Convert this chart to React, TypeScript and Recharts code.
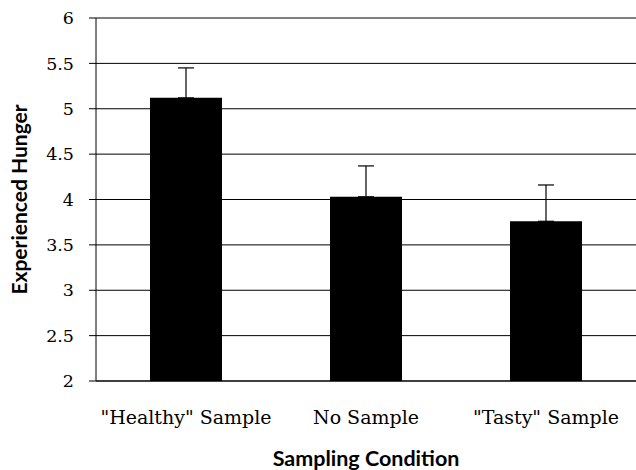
import React from 'react';
import { BarChart, Bar, XAxis, YAxis, CartesianGrid, ErrorBar, Label } from 'recharts';

const conditions = ['"Healthy" Sample', 'No Sample', '"Tasty" Sample'];
const hungerMeans = [5.12, 4.03, 3.76];
const hungerErrors = [0.33, 0.34, 0.4];
const yTicks = [2, 2.5, 3, 3.5, 4, 4.5, 5, 5.5, 6];

const data = conditions.map((name, i) => ({
  name,
  hunger: hungerMeans[i],
  err: [0, hungerErrors[i]],
}));

const serif = '"DejaVu Serif", serif';
const sans = 'Lato, "Open Sans", sans-serif';

const App: React.FC = () => {
  return (
    <div style={{ position: 'absolute', left: 0, top: 0, width: 636, height: 470, background: '#fff' }}>
      <BarChart
        width={636}
        height={470}
        data={data}
        margin={{ top: 18, right: 0, left: 0, bottom: 0 }}
      >
        <CartesianGrid horizontal vertical={false} stroke="#000" strokeWidth={1} />
        <XAxis
          dataKey="name"
          height={89}
          axisLine={{ stroke: '#000' }}
          tickLine={false}
          tickSize={0}
          tickMargin={30}
          tick={{ fill: '#000', fontFamily: serif, fontSize: 19 }}
        >
          <Label
            value="Sampling Condition"
            position="insideBottom"
            offset={4}
            style={{ fontFamily: sans, fontWeight: 700, fontSize: 21.5, fill: '#000' }}
          />
        </XAxis>
        <YAxis
          width={96}
          domain={[2, 6]}
          ticks={yTicks}
          allowDataOverflow
          axisLine={{ stroke: '#000' }}
          tickLine={{ stroke: '#000' }}
          tickSize={7}
          tickMargin={15}
          tick={{ fill: '#000', fontFamily: serif, fontSize: 17.5 }}
        >
          <Label
            value="Experienced Hunger"
            angle={-90}
            position="insideLeft"
            offset={20}
            style={{ fontFamily: sans, fontWeight: 700, fontSize: 21, fill: '#000', textAnchor: 'middle' }}
          />
        </YAxis>
        <Bar dataKey="hunger" fill="#000" barSize={72} isAnimationActive={false}>
          <ErrorBar dataKey="err" width={8} stroke="#000" strokeWidth={1.2} direction="y" />
        </Bar>
      </BarChart>
    </div>
  );
};

export default App;
